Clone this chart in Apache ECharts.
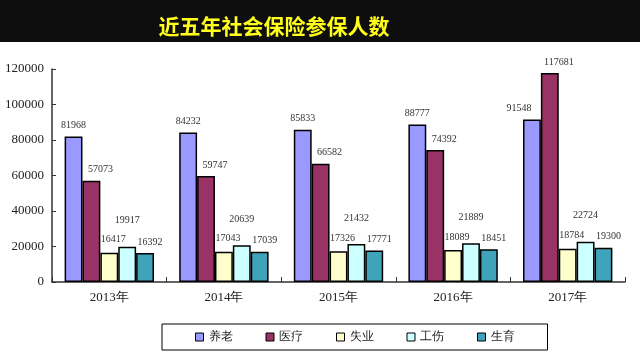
<!DOCTYPE html>
<html><head><meta charset="utf-8">
<script src="https://cdn.jsdelivr.net/npm/echarts@6/dist/echarts.min.js"></script>
<style>html,body{margin:0;padding:0;background:#fff}#c{width:640px;height:360px}</style>
</head><body><div id="c"></div>
<script>
const categories = ['2013年','2014年','2015年','2016年','2017年'];
const seriesNames = ['养老','医疗','失业','工伤','生育'];
const pension = [81968, 84232, 85833, 88777, 91548];
const medical = [57073, 59747, 66582, 74392, 117681];
const unemployment = [16417, 17043, 17326, 18089, 18784];
const injury = [19917, 20639, 21432, 21889, 22724];
const maternity = [16392, 17039, 17771, 18451, 19300];
const yTicks = [0, 20000, 40000, 60000, 80000, 100000, 120000];

const values = [pension, medical, unemployment, injury, maternity];
const colors = ['#9999FF', '#993366', '#FFFFCC', '#CCFFFF', '#3FA3BA'];
const labelOffsets = [[0,0],[9,0],[4,-2],[0,-15],[5,0]];
const serif = '"Liberation Serif","DejaVu Serif",serif';

const chart = echarts.init(document.getElementById('c'), null, {renderer:'canvas'});
const series = seriesNames.map((n, i) => ({
  name: n,
  type: 'bar',
  data: values[i].map((v, j) => {
    if (i === 0 && j === 4) return {value: v, label: {offset: [-13, 0]}};
    return v;
  }),
  barGap: '0%',
  barCategoryGap: '22%',
  itemStyle: {color: colors[i], borderColor: '#000', borderWidth: 1.5},
  label: {show: true, position: 'top', distance: 6, offset: labelOffsets[i],
    fontFamily: serif, fontSize: 10, color: '#333'}
}));

chart.setOption({
  animation: false,
  backgroundColor: '#fff',
  graphic: [
    {type: 'rect', left: 0, top: 0, shape: {width: 640, height: 42}, style: {fill: '#0e0e0e'}, z: -1},
    {type: 'text', x: 274, y: 26, style: {text: '近五年社会保险参保人数', fill: '#FFFF1A',
      font: 'bold 21px "Noto Sans CJK SC"', textAlign: 'center', textVerticalAlign: 'middle'}}
  ],
  grid: {left: 52, right: 15, top: 69, bottom: 78},
  legend: {
    data: seriesNames.map(n => ({name: n, icon: 'rect'})), left: 162, top: 324,
    padding: [7, 33, 7, 33], itemGap: 33, itemWidth: 8, itemHeight: 8,
    borderColor: '#000', borderWidth: 1,
    textStyle: {fontFamily: serif, fontSize: 12, color: '#222'},
    itemStyle: {borderColor: '#000', borderWidth: 1}
  },
  xAxis: {
    type: 'category', data: categories,
    axisLine: {lineStyle: {color: '#333', width: 1.5}},
    axisTick: {show: true, inside: true, length: 5, lineStyle: {color: '#333'}},
    axisLabel: {fontFamily: serif, fontSize: 13, color: '#222', margin: 9}
  },
  yAxis: {
    type: 'value', min: yTicks[0], max: yTicks[yTicks.length-1], interval: 20000,
    axisLine: {show: true, lineStyle: {color: '#333', width: 1.5}},
    axisTick: {show: true, inside: true, length: 4, lineStyle: {color: '#333'}},
    splitLine: {show: false},
    axisLabel: {fontFamily: serif, fontSize: 13, color: '#222', margin: 8,
      formatter: v => String(v)}
  },
  series: series
});
</script></body></html>
